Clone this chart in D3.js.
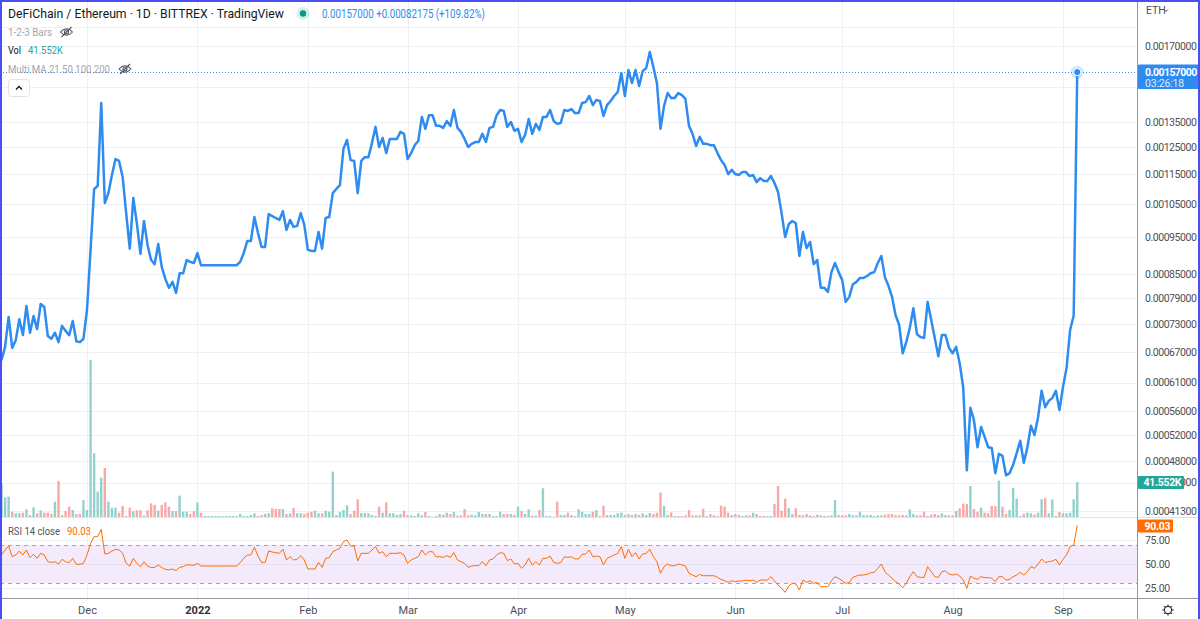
<!DOCTYPE html>
<html>
<head>
<meta charset="utf-8">
<script src="https://cdn.jsdelivr.net/npm/d3@7"></script>
<style>
  body { margin: 0; background: #fff; }
  svg { display: block; font-family: Roboto, "Open Sans", sans-serif; }
</style>
</head>
<body>
<svg id="chart"></svg>
<script>
'use strict'

// one value per day, starting at firstDay
const firstDay = Date.UTC(2021, 10, 7)

// daily close, in units of 0.00001 ETH
const closeE5 = [
  65.3, 68.0, 74.5, 67.8, 69.4, 74.0, 70.5, 77.0, 71.0, 74.7,
  71.8, 77.5, 76.8, 70.3, 69.7, 71.0, 69.0, 72.5, 71.4, 70.5,
  73.6, 69.2, 69.0, 69.7, 76.1, 91.4, 110.0, 111.0, 142.9, 105.4,
  108.6, 114.8, 120.5, 119.8, 114.1, 102.2, 91.7, 107.0, 99.1, 90.3,
  99.8, 92.7, 88.6, 87.5, 93.0, 86.7, 83.6, 81.4, 82.9, 80.2,
  85.1, 85.1, 88.6, 88.1, 87.8, 90.5, 87.2, 87.2, 87.2, 87.2,
  87.2, 87.2, 87.2, 87.2, 87.2, 87.2, 87.2, 88.1, 90.5, 93.9,
  93.9, 101.0, 96.2, 92.2, 92.2, 101.9, 101.3, 100.7, 100.1, 102.8,
  97.1, 100.1, 98.0, 98.3, 102.2, 98.6, 91.4, 91.1, 91.1, 96.5,
  91.7, 100.7, 101.0, 108.6, 110.0, 111.3, 124.3, 127.7, 120.1, 119.8,
  108.6, 119.8, 121.2, 121.2, 126.5, 132.9, 125.0, 128.5, 122.7, 128.1,
  128.1, 128.1, 130.9, 130.1, 120.5, 122.7, 125.7, 127.3, 137.0, 132.1,
  137.7, 137.7, 133.3, 133.3, 132.5, 135.3, 133.3, 139.9, 132.5, 130.9,
  128.1, 125.0, 126.2, 126.9, 126.9, 130.1, 126.9, 132.5, 132.9, 137.7,
  139.9, 139.5, 132.9, 134.9, 131.3, 132.1, 126.9, 129.7, 136.1, 130.1,
  134.1, 131.7, 137.0, 137.0, 139.9, 135.3, 134.1, 134.5, 139.9, 139.5,
  140.3, 138.6, 138.6, 142.9, 143.3, 146.0, 142.0, 144.2, 143.8, 137.4,
  142.0, 143.8, 146.0, 147.8, 156.6, 146.0, 158.0, 151.9, 158.0, 150.5,
  157.5, 159.0, 166.9, 159.5, 151.9, 132.1, 141.6, 147.3, 145.1, 145.1,
  147.3, 146.4, 144.7, 133.3, 130.1, 125.4, 128.9, 126.2, 126.2, 125.7,
  125.7, 122.7, 120.1, 118.3, 115.1, 116.6, 115.1, 114.8, 115.8, 115.8,
  114.4, 114.8, 112.3, 113.7, 112.7, 112.7, 114.4, 112.0, 109.0, 102.2,
  95.0, 98.8, 99.8, 99.1, 89.7, 96.5, 91.9, 93.6, 87.5, 88.6,
  81.4, 81.4, 80.4, 85.4, 87.8, 85.4, 83.4, 78.0, 79.2, 82.3,
  82.9, 83.9, 83.9, 84.4, 85.1, 85.4, 87.8, 89.7, 84.1, 81.9,
  79.2, 74.9, 72.7, 66.7, 69.0, 72.1, 76.5, 70.7, 70.1, 69.9,
  78.0, 73.8, 69.9, 66.1, 70.5, 70.5, 67.8, 66.7, 68.0, 64.7,
  60.0, 46.7, 56.5, 54.4, 50.1, 53.3, 51.7, 50.1, 50.0, 46.3,
  49.1, 48.8, 46.0, 46.3, 47.5, 49.2, 51.1, 47.8, 50.1, 53.5,
  52.0, 54.9, 59.5, 56.6, 57.7, 58.2, 59.5, 56.1, 60.2, 63.8,
  71.6, 74.825, 157.0
]

// daily volume, thousands
const volumeK = [
  40.0, 23.4, 24.2, 6.3, 4.4, 4.4, 5.1, 9.1, 2.4, 11.5,
  4.4, 7.9, 5.1, 5.1, 3.6, 18.2, 42.8, 2.4, 7.1, 12.3,
  8.3, 3.6, 3.6, 20.2, 8.3, 186.5, 75.6, 30.1, 46.7, 58.2,
  18.2, 11.1, 11.1, 5.1, 13.1, 1.2, 11.1, 6.7, 7.9, 7.9,
  1.6, 7.9, 16.2, 14.3, 7.5, 14.3, 17.4, 12.3, 7.1, 7.1,
  25.3, 6.3, 6.3, 3.6, 7.1, 17.4, 5.1, 1.2, 1.2, 1.2,
  1.2, 1.2, 1.2, 1.2, 1.2, 1.2, 1.2, 3.6, 1.2, 1.2,
  2.4, 4.4, 1.2, 2.4, 3.6, 4.4, 10.3, 9.5, 9.5, 9.5,
  3.6, 4.4, 10.7, 4.4, 4.4, 3.6, 5.1, 6.3, 7.5, 4.4,
  4.4, 7.5, 6.3, 53.9, 2.4, 5.9, 8.3, 13.9, 3.6, 7.5,
  21.0, 4.8, 4.8, 4.4, 2.4, 1.2, 12.3, 5.1, 17.4, 4.4,
  4.4, 2.4, 3.6, 7.5, 2.4, 2.0, 1.2, 4.4, 2.0, 5.9,
  1.2, 0.4, 1.2, 3.6, 2.8, 5.1, 3.6, 5.9, 1.6, 2.0,
  9.5, 2.0, 2.8, 2.0, 5.9, 3.6, 3.6, 3.6, 1.2, 1.2,
  6.3, 3.6, 3.6, 3.6, 2.4, 12.3, 7.1, 3.6, 9.1, 1.6,
  1.6, 8.3, 34.1, 1.2, 1.2, 0.4, 18.2, 2.4, 2.4, 5.1,
  2.4, 1.2, 9.1, 6.3, 3.6, 3.6, 6.3, 8.3, 1.2, 13.5,
  2.4, 2.4, 2.4, 4.4, 5.1, 2.4, 3.6, 2.4, 3.6, 2.4,
  4.4, 2.4, 4.8, 3.6, 5.1, 28.9, 13.1, 2.4, 5.5, 1.2,
  1.2, 1.2, 2.0, 8.3, 2.0, 2.0, 2.0, 9.9, 1.2, 3.6,
  2.0, 1.2, 13.5, 12.3, 5.1, 2.4, 3.6, 2.4, 1.2, 2.0,
  2.0, 5.1, 3.6, 1.2, 1.2, 1.2, 1.2, 15.4, 36.8, 7.5,
  21.8, 10.7, 3.6, 10.3, 2.4, 2.0, 3.6, 2.0, 1.2, 2.8,
  2.0, 1.2, 1.2, 2.0, 20.2, 2.4, 2.4, 2.0, 3.6, 2.4,
  2.0, 6.3, 2.4, 2.0, 2.4, 1.2, 2.0, 2.0, 2.8, 3.6,
  3.6, 2.4, 2.0, 2.4, 2.0, 9.1, 3.6, 2.0, 2.0, 6.3,
  1.2, 2.8, 3.6, 2.4, 4.4, 2.4, 2.0, 2.0, 7.1, 10.3,
  15.8, 15.4, 36.8, 9.5, 6.3, 11.1, 5.1, 4.4, 13.1, 13.1,
  43.2, 12.3, 3.6, 8.3, 34.8, 21.8, 1.2, 3.6, 5.1, 4.4,
  2.8, 5.1, 21.0, 22.2, 4.4, 21.0, 1.2, 5.9, 4.4, 4.4,
  5.1, 21.0, 41.552
]

// RSI 14 on close
const rsi14 = [
  59.4, 64.6, 68.8, 57.6, 59.4, 63.5, 59.4, 64.6, 56.6, 60.1,
  55.9, 61.1, 59.4, 52.4, 51.7, 52.4, 50.0, 54.9, 52.4, 51.4,
  55.9, 49.7, 49.7, 50.7, 59.4, 71.5, 78.5, 78.5, 86.1, 60.4,
  61.1, 63.5, 65.3, 64.6, 61.1, 50.7, 47.9, 55.9, 50.7, 47.2,
  52.4, 47.9, 46.2, 46.5, 49.0, 46.2, 44.4, 43.8, 44.8, 43.1,
  46.5, 47.2, 49.3, 49.0, 48.6, 50.7, 47.9, 47.9, 47.9, 47.9,
  47.9, 47.9, 47.9, 47.9, 47.9, 47.9, 47.9, 51.4, 55.9, 59.4,
  59.4, 67.4, 58.3, 51.7, 51.7, 63.5, 62.5, 61.8, 61.1, 65.3,
  54.2, 57.6, 54.2, 54.9, 58.7, 54.2, 44.8, 44.8, 44.8, 51.7,
  46.5, 55.9, 56.6, 62.8, 64.6, 66.3, 73.3, 75.0, 68.8, 68.8,
  53.1, 61.1, 61.1, 61.1, 64.6, 68.1, 61.1, 62.8, 57.6, 61.1,
  61.1, 61.1, 61.8, 59.4, 50.7, 54.2, 55.9, 57.6, 64.6, 59.4,
  62.8, 62.8, 57.6, 57.6, 56.9, 58.7, 56.9, 61.8, 54.2, 52.4,
  50.7, 46.5, 47.9, 48.3, 48.3, 52.4, 48.3, 54.2, 55.2, 59.4,
  61.8, 61.1, 53.5, 55.2, 50.0, 50.7, 45.5, 49.0, 55.9, 49.0,
  52.4, 49.0, 55.9, 55.9, 58.3, 51.7, 50.7, 51.4, 57.6, 56.9,
  57.6, 55.2, 55.2, 60.1, 60.4, 64.6, 57.6, 58.3, 57.6, 49.0,
  55.9, 57.6, 59.4, 61.1, 68.1, 55.9, 65.3, 57.6, 61.8, 55.2,
  60.4, 61.1, 65.3, 57.6, 52.4, 40.3, 47.2, 50.0, 48.3, 48.3,
  50.0, 49.0, 47.9, 40.3, 38.5, 36.8, 39.2, 37.8, 37.8, 37.8,
  37.8, 36.1, 34.0, 32.6, 30.9, 32.6, 31.6, 32.3, 32.3, 33.3,
  32.6, 33.3, 30.9, 33.3, 33.3, 33.3, 36.8, 32.3, 28.1, 24.7,
  20.5, 27.1, 29.9, 29.2, 22.9, 33.3, 30.9, 32.6, 29.9, 30.6,
  26.4, 26.4, 26.4, 32.6, 36.8, 35.1, 32.6, 29.9, 30.6, 36.1,
  37.5, 38.5, 38.5, 39.2, 41.0, 41.3, 45.5, 50.0, 42.0, 38.5,
  35.1, 31.6, 29.2, 25.3, 29.9, 36.8, 42.0, 36.8, 36.1, 36.1,
  47.2, 42.0, 36.8, 36.1, 42.0, 42.7, 39.6, 38.5, 39.6, 37.5,
  33.3, 24.7, 37.5, 35.1, 34.0, 36.8, 35.8, 35.8, 35.1, 31.6,
  36.8, 36.8, 33.3, 34.0, 36.8, 38.5, 41.3, 38.5, 42.0, 47.2,
  45.5, 50.0, 55.2, 51.4, 52.4, 53.1, 54.9, 49.0, 54.9, 59.4,
  68.1, 69.8, 90.03
]

const priceGrid = [0.0018, 0.0017, 0.0015, 0.00135, 0.00125, 0.00115, 0.00105, 0.00095,
  0.00085, 0.00079, 0.00073, 0.00067, 0.00061, 0.00056, 0.00052, 0.00048, 0.00045, 0.000413]
const priceTicks = [0.0017, 0.00135, 0.00125, 0.00115, 0.00105, 0.00095,
  0.00085, 0.00079, 0.00073, 0.00067, 0.00061, 0.00056, 0.00052, 0.00048, 0.00045, 0.000413]
const rsiTicks = [75, 50, 25]
const monthTicks = [[2021, 11], [2022, 0], [2022, 1], [2022, 2], [2022, 3], [2022, 4], [2022, 5], [2022, 6], [2022, 7], [2022, 8]]
const monthLabels = ['Dec', '2022', 'Feb', 'Mar', 'Apr', 'May', 'Jun', 'Jul', 'Aug', 'Sep']

const W = 1200, H = 619
const plotRight = 1137
const mainBottom = 517, rsiTop = 517, rsiBottom = 598

const blue = '#2e8cf0', teal = '#26a69a', orange = '#ff6d00'
const gridColor = '#edf1f6', textColor = '#4c4f58'

const DAY = 864e5
const rows = closeE5.map((c, i) => ({
  date: new Date(firstDay + i * DAY),
  close: c / 1e5,
  vol: volumeK[i],
  rsi: rsi14[i],
  up: i === 0 || c >= closeE5[i - 1]
}))
const last = rows[rows.length - 1]
const prev = rows[rows.length - 2]

const x = d3.scaleUtc()
  .domain([new Date(Date.UTC(2021, 11, 1)), new Date(Date.UTC(2022, 8, 1))])
  .range([87, 1063])
const y = d3.scaleLog().domain([0.000413, 0.0017]).range([510.7, 46])
const yVol = d3.scaleLinear().domain([0, 41.552]).range([mainBottom, 482])
const yRsi = d3.scaleLinear().domain([25, 75]).range([588, 540])

// squeeze a legend text to the width measured on the screenshot
function fit(sel, len) {
  return sel.attr('textLength', len).attr('lengthAdjust', 'spacingAndGlyphs')
}

const svg = d3.select('#chart').attr('width', W).attr('height', H)
svg.append('rect').attr('width', W).attr('height', H).attr('fill', '#fff')

const defs = svg.append('defs')
defs.append('clipPath').attr('id', 'clipMain')
  .append('rect').attr('x', 0).attr('y', 0).attr('width', plotRight).attr('height', mainBottom)
defs.append('clipPath').attr('id', 'clipRsi')
  .append('rect').attr('x', 0).attr('y', rsiTop).attr('width', plotRight).attr('height', rsiBottom - rsiTop)

const monthDates = monthTicks.map(m => new Date(Date.UTC(m[0], m[1], 1)))

// grid
const grid = svg.append('g')
grid.selectAll('.vgrid').data(monthDates).enter().append('line')
  .attr('x1', d => Math.round(x(d)) + 0.5).attr('x2', d => Math.round(x(d)) + 0.5)
  .attr('y1', 0).attr('y2', rsiBottom)
  .attr('stroke', gridColor)
grid.selectAll('.hgrid').data(priceGrid).enter().append('line')
  .attr('x1', 0).attr('x2', plotRight)
  .attr('y1', d => Math.round(y(d)) + 0.5).attr('y2', d => Math.round(y(d)) + 0.5)
  .attr('stroke', gridColor)

// volume bars
svg.append('g').attr('clip-path', 'url(#clipMain)')
  .selectAll('rect').data(rows).enter().append('rect')
  .attr('x', d => x(d.date) - 1.2)
  .attr('width', 2.4)
  .attr('y', d => yVol(d.vol))
  .attr('height', d => mainBottom - yVol(d.vol))
  .attr('fill', d => d.up ? '#93d2cc' : '#f7a9a7')

// price line
const line = d3.line().x(d => x(d.date)).y(d => y(d.close))
svg.append('path').datum(rows)
  .attr('clip-path', 'url(#clipMain)')
  .attr('d', line)
  .attr('fill', 'none')
  .attr('stroke', blue)
  .attr('stroke-width', 2.5)
  .attr('stroke-linejoin', 'round')

// last price line + marker
svg.append('line')
  .attr('x1', 0).attr('x2', plotRight)
  .attr('y1', Math.round(y(last.close)) + 0.5).attr('y2', Math.round(y(last.close)) + 0.5)
  .attr('stroke', blue).attr('stroke-dasharray', '1,2')
svg.append('circle').attr('cx', x(last.date)).attr('cy', y(last.close)).attr('r', 6.5)
  .attr('fill', blue).attr('fill-opacity', 0.22)
svg.append('circle').attr('cx', x(last.date)).attr('cy', y(last.close)).attr('r', 3.6)
  .attr('fill', blue).attr('stroke', '#fff').attr('stroke-width', 1)

// RSI pane
svg.append('line').attr('x1', 0).attr('x2', W).attr('y1', rsiTop + 0.5).attr('y2', rsiTop + 0.5)
  .attr('stroke', '#e0e3eb')
svg.selectAll('.rgrid').data(rsiTicks).enter().append('line')
  .attr('x1', 0).attr('x2', plotRight)
  .attr('y1', d => Math.round(yRsi(d)) + 0.5).attr('y2', d => Math.round(yRsi(d)) + 0.5)
  .attr('stroke', gridColor)
svg.append('rect')
  .attr('x', 0).attr('width', plotRight)
  .attr('y', yRsi(70)).attr('height', yRsi(30) - yRsi(70))
  .attr('fill', '#f3eafb')
svg.selectAll('.band').data([70, 30]).enter().append('line')
  .attr('x1', 0).attr('x2', plotRight)
  .attr('y1', d => Math.round(yRsi(d)) + 0.5).attr('y2', d => Math.round(yRsi(d)) + 0.5)
  .attr('stroke', '#a3a6af').attr('stroke-dasharray', '4,4')
svg.append('line').attr('x1', 0).attr('x2', plotRight)
  .attr('y1', Math.round(yRsi(50)) + 0.5).attr('y2', Math.round(yRsi(50)) + 0.5)
  .attr('stroke', '#e4dcef')
svg.append('path').datum(rows)
  .attr('clip-path', 'url(#clipRsi)')
  .attr('d', d3.line().x(d => x(d.date)).y(d => yRsi(d.rsi)))
  .attr('fill', 'none').attr('stroke', orange).attr('stroke-width', 1)

// axis borders
svg.append('line').attr('x1', 0).attr('x2', W).attr('y1', rsiBottom + 0.5).attr('y2', rsiBottom + 0.5)
  .attr('stroke', '#9598a1')
svg.append('line').attr('x1', plotRight + 0.5).attr('x2', plotRight + 0.5).attr('y1', 0).attr('y2', H)
  .attr('stroke', '#9598a1')

// price axis
const fmt8 = d3.format('.8f')
const priceAxis = svg.append('g')
  .attr('transform', `translate(${plotRight},0)`)
  .call(d3.axisRight(y).tickValues(priceTicks).tickFormat(fmt8).tickSize(0).tickPadding(8))
const rsiAxis = svg.append('g')
  .attr('transform', `translate(${plotRight},0)`)
  .call(d3.axisRight(yRsi).tickValues(rsiTicks).tickFormat(d3.format('.2f')).tickSize(0).tickPadding(8))
const timeAxis = svg.append('g')
  .attr('transform', `translate(0,${rsiBottom})`)
  .call(d3.axisBottom(x).tickValues(monthDates).tickFormat((d, i) => monthLabels[i]).tickSize(0).tickPadding(8))
;[priceAxis, rsiAxis, timeAxis].forEach(a => {
  a.select('.domain').remove()
  a.selectAll('text').attr('fill', textColor).attr('font-size', 11).attr('font-family', 'Roboto, sans-serif')
})
priceAxis.selectAll('text').attr('font-size', 10.5).attr('letter-spacing', -0.45)
rsiAxis.selectAll('text').attr('font-size', 10.5).attr('letter-spacing', -0.3)
timeAxis.selectAll('text').filter((d, i) => monthLabels[i] === '2022').attr('font-weight', 'bold').attr('fill', '#2a2e39')

// ETH currency label
svg.append('text').attr('x', 1146).attr('y', 14).attr('font-size', 10.5).attr('fill', textColor).text('ETH')
svg.append('path').attr('d', 'M1164,9.5 l2,2 l2,-2').attr('fill', 'none').attr('stroke', textColor)

// gear
const gear = svg.append('g').attr('transform', 'translate(1168,610)')
  .attr('fill', 'none').attr('stroke', '#2a2e39').attr('stroke-width', 1.1)
gear.append('circle').attr('r', 3.6)
d3.range(8).forEach(k => {
  const a = k * Math.PI / 4
  gear.append('line').attr('x1', Math.cos(a) * 3.6).attr('y1', Math.sin(a) * 3.6)
    .attr('x2', Math.cos(a) * 5.6).attr('y2', Math.sin(a) * 5.6)
})

// last value labels on the right scale
function tag(yTop, h, w, fill) {
  const g = svg.append('g')
  g.append('rect').attr('x', plotRight + 1).attr('y', yTop).attr('width', w).attr('height', h)
    .attr('fill', fill).attr('rx', 1)
  return g
}
const pt = tag(64.5, 24.5, 61, blue)
pt.append('text').attr('x', 1145).attr('y', 76).attr('font-size', 10.5).attr('font-weight', 'bold')
  .attr('letter-spacing', -0.55).attr('fill', '#fff').text(fmt8(last.close))
pt.append('text').attr('x', 1145).attr('y', 87).attr('font-size', 10.5).attr('letter-spacing', -0.2)
  .attr('fill', '#fff').attr('fill-opacity', 0.85).text('03:26:18')
const vt = tag(yVol(last.vol) - 6, 13, 46, teal)
vt.append('text').attr('x', 1143.5).attr('y', yVol(last.vol) + 4).attr('font-size', 10.5).attr('font-weight', 'bold')
  .attr('letter-spacing', -0.3).attr('fill', '#fff').text(d3.format('.3f')(last.vol) + 'K')
const rt = tag(yRsi(last.rsi) - 6, 13, 35, orange)
rt.append('text').attr('x', 1144.5).attr('y', yRsi(last.rsi) + 4).attr('font-size', 10.5).attr('font-weight', 'bold')
  .attr('letter-spacing', -0.3).attr('fill', '#fff').text(d3.format('.2f')(last.rsi))

// legend
const legend = svg.append('g').attr('font-family', 'Roboto, sans-serif')
fit(legend.append('text').attr('x', 8).attr('y', 18).attr('font-size', 13).attr('fill', '#131722')
  .text('DeFiChain / Ethereum · 1D · BITTREX · TradingView'), 276)
legend.append('circle').attr('cx', 303).attr('cy', 13.5).attr('r', 6.5).attr('fill', teal).attr('fill-opacity', 0.18)
legend.append('circle').attr('cx', 303).attr('cy', 13.5).attr('r', 3.2).attr('fill', '#089981')
const change = last.close - prev.close
fit(legend.append('text').attr('x', 322).attr('y', 18).attr('font-size', 12).attr('fill', blue)
  .text(`${fmt8(last.close)} +${fmt8(change)} (+${d3.format('.2f')(change / prev.close * 100)}%)`), 163)

fit(legend.append('text').attr('x', 8).attr('y', 36).attr('font-size', 11).attr('fill', '#a3a6af').text('1-2-3 Bars'), 44)
fit(legend.append('text').attr('x', 8).attr('y', 54).attr('font-size', 11).attr('fill', '#131722').text('Vol'), 13)
fit(legend.append('text').attr('x', 28).attr('y', 54).attr('font-size', 11).attr('fill', teal)
  .text(d3.format('.3f')(last.vol) + 'K'), 35)
fit(legend.append('text').attr('x', 8).attr('y', 73).attr('font-size', 11).attr('fill', '#a3a6af')
  .text('Multi MA 21 50 100 200'), 102)

function eyeOff(cx, cy) {
  const g = legend.append('g').attr('transform', `translate(${cx},${cy})`)
    .attr('fill', 'none').attr('stroke', '#50535e').attr('stroke-width', 1.1)
  g.append('path').attr('d', 'M-6,0 Q0,-6.5 6,0 Q0,6.5 -6,0 Z')
  g.append('circle').attr('r', 2)
  g.append('line').attr('x1', -5).attr('y1', 5).attr('x2', 5).attr('y2', -5)
}
eyeOff(66.5, 32)
eyeOff(125, 69)

legend.append('rect').attr('x', 8.5).attr('y', 79.5).attr('width', 21).attr('height', 17).attr('rx', 3)
  .attr('fill', '#fff').attr('stroke', '#e0e3eb')
legend.append('path').attr('d', 'M16,89.5 l3,-3 l3,3').attr('fill', 'none').attr('stroke', '#131722').attr('stroke-width', 1.3)

fit(legend.append('text').attr('x', 8).attr('y', 535).attr('font-size', 11).attr('fill', '#50535e').text('RSI 14 close'), 52)
fit(legend.append('text').attr('x', 67).attr('y', 535).attr('font-size', 11).attr('fill', orange)
  .text(d3.format('.2f')(last.rsi)), 24)

// window frame
svg.append('path').attr('d', `M1,${H} V1 H${W - 1} V${H}`)
  .attr('fill', 'none').attr('stroke', '#4a4ef5').attr('stroke-width', 2)
</script>
</body>
</html>
